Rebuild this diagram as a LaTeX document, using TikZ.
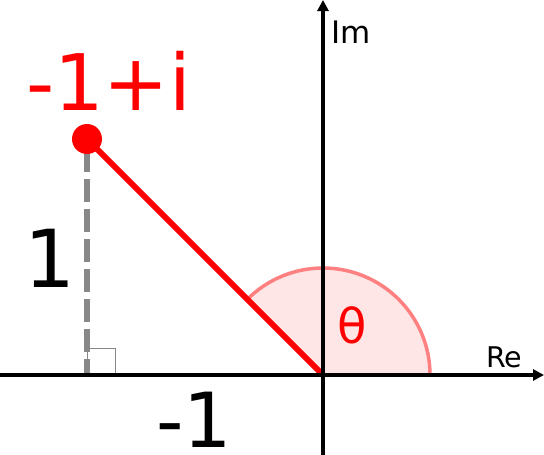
\documentclass[tikz,border=0pt]{standalone}
\usepackage{fontspec}
\setmainfont{DejaVu Sans}
\usetikzlibrary{arrows.meta,calc}
\definecolor{redc}{HTML}{FF0000}
\definecolor{arcc}{HTML}{FF8080}
\definecolor{arcfill}{HTML}{FFE6E6}
\definecolor{grayc}{HTML}{888888}
\tikzset{
  axis/.style={line width=3.5pt, -{Triangle[length=11pt,width=11pt]}},
  lbl/.style={inner sep=0pt, anchor=base west},
}
\begin{document}
\begin{tikzpicture}[x=1pt,y=-1pt]
\useasboundingbox (0,0) rectangle (544,455);
\coordinate (O) at (323,375);
\coordinate (P) at (87,139);
\coordinate (F) at (87,375);
\coordinate (A) at (430,375);
% sector
\fill[arcfill] (O) -- (A) arc[start angle=0,end angle=-135,radius=107] -- cycle;
\draw[arcc, line width=3.5pt] (A) arc[start angle=0,end angle=-135,radius=107];
% right-angle marker
\draw[grayc, line width=1pt] (F) rectangle ++(28,-27);
% dashed
\draw[grayc, line width=6pt, dash pattern=on 23pt off 7pt] (87,149) -- (F);
% red line
\draw[redc, line width=6pt] (P) -- (O);
% axes
\coordinate (xs) at (0,375);
\coordinate (xe) at (544,375);
\coordinate (ys) at (323,455);
\coordinate (ye) at (323,0);
\draw[axis] (xs) -- (xe);
\draw[axis] (ys) -- (ye);
\fill[redc] (P) circle[radius=15];
% labels
\node[lbl, text=redc, font=\fontsize{78}{90}\selectfont] (lp) at (26,110) {-1+i};
\node[inner sep=0pt, anchor=base, font=\fontsize{80}{90}\selectfont] (l1) at (50,287) {1};
\node[lbl, font=\fontsize{76}{90}\selectfont] (lm1) at (156,447) {-1};
\node[inner sep=0pt, anchor=base, text=redc, font=\fontsize{48}{56}\selectfont] (th) at (352.5,343) {θ};
\node[lbl, font=\fontsize{31}{36}\selectfont] (im) at (331,43) {Im};
\node[lbl, font=\fontsize{28.5}{32}\selectfont] (re) at (486,367) {Re};
\end{tikzpicture}
\end{document}
